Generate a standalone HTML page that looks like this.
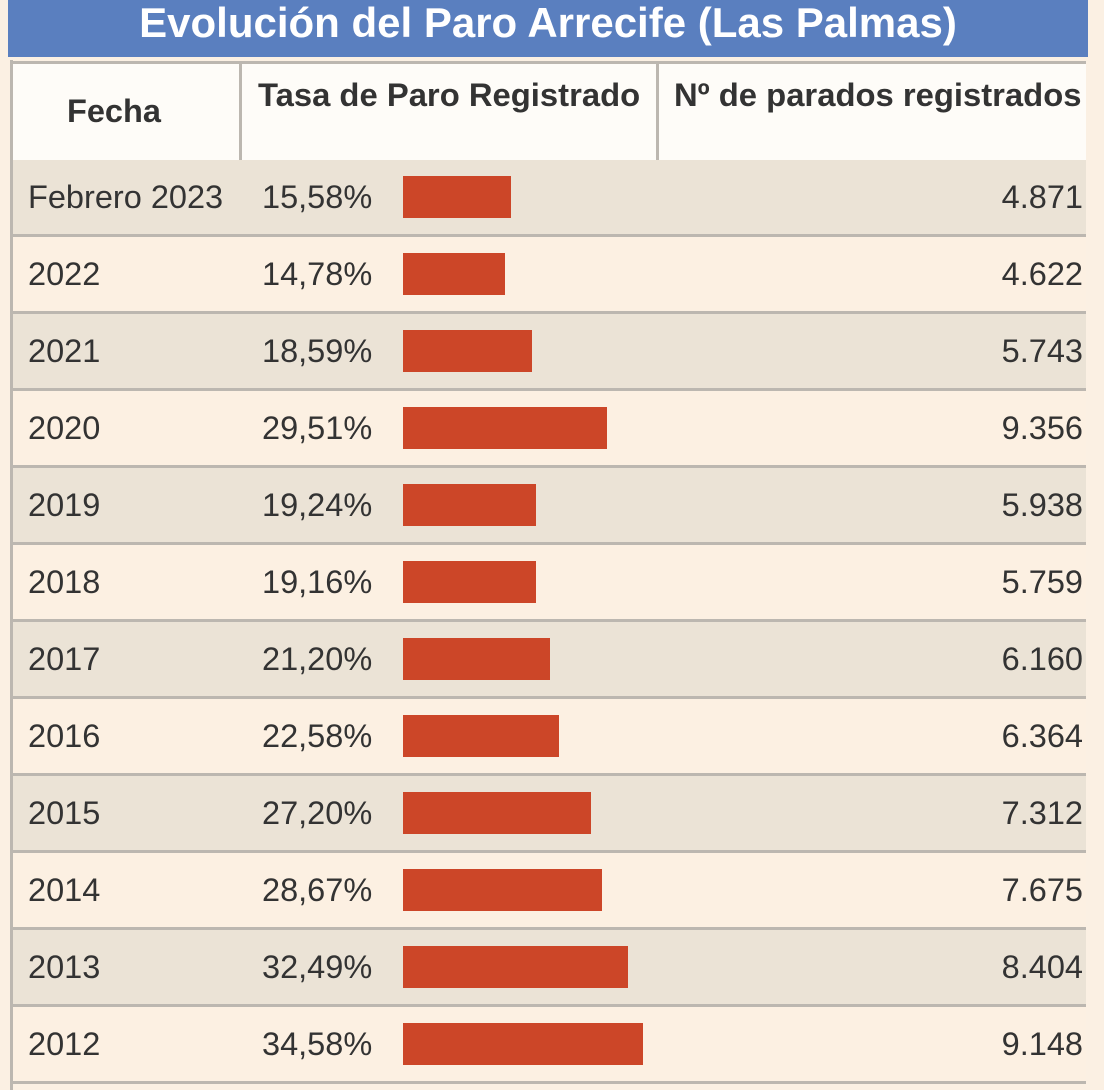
<!DOCTYPE html>
<html><head><meta charset="utf-8"><style>
body{margin:0;width:1104px;height:1090px;background:#fbf0e3;position:relative;overflow:hidden;font-family:"Liberation Sans",Arial,sans-serif;}
.t{position:absolute;left:8px;top:0;width:1080px;height:57px;background:#5a7fbf;color:#fff;font-weight:bold;font-size:42px;text-align:center;line-height:46px;white-space:nowrap;}
.tb{position:absolute;left:10px;top:60px;width:1076px;height:1030px;border-left:3px solid #bcb7b0;}
.hd{position:absolute;left:13px;top:61px;width:1073px;height:96px;background:#fefcf8;border-top:3px solid #bcb7b0;border-bottom:3px solid #bcb7b0;}
.vd{position:absolute;top:64px;width:3px;height:96px;background:#bcb7b0;}
.h{position:absolute;font-weight:bold;font-size:32.8px;color:#333;white-space:nowrap;}
.r{position:absolute;left:13px;width:1073px;height:74px;border-bottom:3px solid #bcb7b0;}
.r span{position:absolute;top:0;line-height:74px;font-size:32.5px;color:#333;white-space:nowrap;}
.b{position:absolute;left:390px;top:16px;height:42px;background:#cc4628;}
</style></head><body>
<div class="t">Evolución del Paro Arrecife (Las Palmas)</div>
<div class="tb"></div>
<div class="hd"></div>
<div class="vd" style="left:239px"></div>
<div class="vd" style="left:656px"></div>
<div class="h" style="left:67px;top:93px;font-size:32.5px">Fecha</div>
<div class="h" style="left:258px;top:76px">Tasa de Paro Registrado</div>
<div class="h" style="left:674px;top:76px">Nº de parados registrados</div>
<div class="r" style="top:160px;background:#ebe3d6"><span style="left:15px">Febrero 2023</span><span style="left:249px">15,58%</span><div class="b" style="width:108px"></div><span style="right:3px">4.871</span></div>
<div class="r" style="top:237px;background:#fcf0e2"><span style="left:15px">2022</span><span style="left:249px">14,78%</span><div class="b" style="width:102px"></div><span style="right:3px">4.622</span></div>
<div class="r" style="top:314px;background:#ebe3d6"><span style="left:15px">2021</span><span style="left:249px">18,59%</span><div class="b" style="width:129px"></div><span style="right:3px">5.743</span></div>
<div class="r" style="top:391px;background:#fcf0e2"><span style="left:15px">2020</span><span style="left:249px">29,51%</span><div class="b" style="width:204px"></div><span style="right:3px">9.356</span></div>
<div class="r" style="top:468px;background:#ebe3d6"><span style="left:15px">2019</span><span style="left:249px">19,24%</span><div class="b" style="width:133px"></div><span style="right:3px">5.938</span></div>
<div class="r" style="top:545px;background:#fcf0e2"><span style="left:15px">2018</span><span style="left:249px">19,16%</span><div class="b" style="width:133px"></div><span style="right:3px">5.759</span></div>
<div class="r" style="top:622px;background:#ebe3d6"><span style="left:15px">2017</span><span style="left:249px">21,20%</span><div class="b" style="width:147px"></div><span style="right:3px">6.160</span></div>
<div class="r" style="top:699px;background:#fcf0e2"><span style="left:15px">2016</span><span style="left:249px">22,58%</span><div class="b" style="width:156px"></div><span style="right:3px">6.364</span></div>
<div class="r" style="top:776px;background:#ebe3d6"><span style="left:15px">2015</span><span style="left:249px">27,20%</span><div class="b" style="width:188px"></div><span style="right:3px">7.312</span></div>
<div class="r" style="top:853px;background:#fcf0e2"><span style="left:15px">2014</span><span style="left:249px">28,67%</span><div class="b" style="width:199px"></div><span style="right:3px">7.675</span></div>
<div class="r" style="top:930px;background:#ebe3d6"><span style="left:15px">2013</span><span style="left:249px">32,49%</span><div class="b" style="width:225px"></div><span style="right:3px">8.404</span></div>
<div class="r" style="top:1007px;background:#fcf0e2"><span style="left:15px">2012</span><span style="left:249px">34,58%</span><div class="b" style="width:240px"></div><span style="right:3px">9.148</span></div>
</body></html>
